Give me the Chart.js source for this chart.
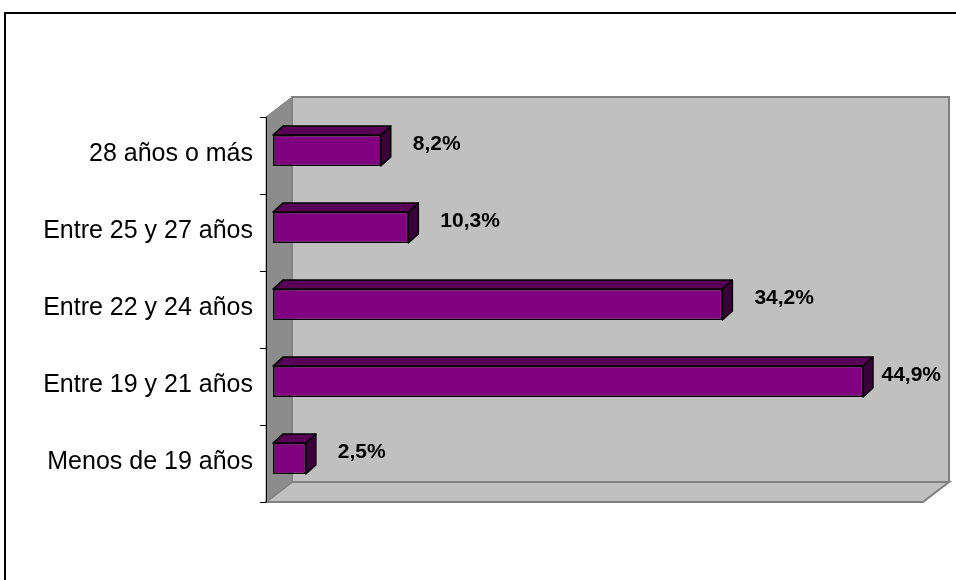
<!DOCTYPE html>
<html>
<head>
<meta charset="utf-8">
<script src="https://cdn.jsdelivr.net/npm/chart.js@4"></script>
<style>
  html, body { margin: 0; padding: 0; background: #ffffff; }
  canvas { display: block; }
</style>
</head>
<body>
<canvas id="edadChart" width="956" height="580"></canvas>
<script>
// data, in Excel order (first category is drawn at the bottom)
const categories = ['Menos de 19 años', 'Entre 19 y 21 años', 'Entre 22 y 24 años', 'Entre 25 y 27 años', '28 años o más'];
const percentages = [2.5, 44.9, 34.2, 10.3, 8.2];
const axisMin = 0;
const axisMax = 50;

const formatPct = (v) => v.toFixed(1).replace('.', ',') + '%';

// ─── 3D look (walls, floor, bar depth, labels) ───────

const WALL_DX = 26, WALL_DY = 20;   // depth of the walls
const BAR_DX = 10, BAR_DY = 9;      // depth of each bar
const FRONT_DX = -7, FRONT_DY = 5;  // front plane vs. bar front faces

const poly = (ctx, pts, fill, stroke, lw) => {
    ctx.beginPath();
    ctx.moveTo(pts[0][0], pts[0][1]);
    pts.slice(1).forEach(p => ctx.lineTo(p[0], p[1]));
    ctx.closePath();
    if (fill) { ctx.fillStyle = fill; ctx.fill(); }
    if (stroke) { ctx.strokeStyle = stroke; ctx.lineWidth = lw || 1; ctx.stroke(); }
};

const threeD = {
    id: 'threeD',
    beforeDraw(chart) {
        const { ctx, chartArea: a } = chart;
        ctx.save();

        // outer frame (runs past the window)
        ctx.strokeStyle = '#000000';
        ctx.lineWidth = 2;
        ctx.strokeRect(5, 13, 2000, 2000);

        const fl = a.left + FRONT_DX, fr = a.right + FRONT_DX;
        const ft = a.top + FRONT_DY, fb = a.bottom + FRONT_DY;

        // back wall
        poly(ctx, [[fl + WALL_DX, ft - WALL_DY], [fr + WALL_DX, ft - WALL_DY],
                   [fr + WALL_DX, fb - WALL_DY], [fl + WALL_DX, fb - WALL_DY]], '#c0c0c0', '#808080', 2);
        // floor
        poly(ctx, [[fl, fb], [fr, fb], [fr + WALL_DX, fb - WALL_DY], [fl + WALL_DX, fb - WALL_DY]], '#c0c0c0', '#808080', 2);
        // side wall
        poly(ctx, [[fl, ft], [fl + WALL_DX, ft - WALL_DY], [fl + WALL_DX, fb - WALL_DY], [fl, fb]], '#8c8c8c', '#808080', 1);

        // category axis line and tick marks
        ctx.strokeStyle = '#000000';
        ctx.lineWidth = 1;
        ctx.beginPath();
        ctx.moveTo(fl + 0.5, ft);
        ctx.lineTo(fl + 0.5, fb);
        const n = categories.length;
        for (let i = 0; i <= n; i++) {
            const y = Math.round(ft + (fb - ft) * i / n) + 0.5;
            ctx.moveTo(fl - 6, y);
            ctx.lineTo(fl + 0.5, y);
        }
        ctx.stroke();
        ctx.restore();
    },
    afterDatasetsDraw(chart) {
        const { ctx } = chart;
        const meta = chart.getDatasetMeta(0);
        const wallRight = chart.chartArea.right + FRONT_DX + WALL_DX;
        ctx.save();
        ctx.lineJoin = 'round';
        meta.data.forEach((bar, i) => {
            const { x, y, base, height } = bar.getProps(['x', 'y', 'base', 'height'], true);
            const top = y - height / 2, bottom = y + height / 2;
            // top face
            poly(ctx, [[base, top], [x, top], [x + BAR_DX, top - BAR_DY], [base + BAR_DX, top - BAR_DY]], '#580058', '#000000', 1.5);
            // right face
            poly(ctx, [[x, top], [x + BAR_DX, top - BAR_DY], [x + BAR_DX, bottom - BAR_DY], [x, bottom]], '#3a003a', '#000000', 1.5);

            // value label
            const txt = formatPct(percentages[i]);
            ctx.font = 'bold 21px "Liberation Sans", Arial, sans-serif';
            ctx.fillStyle = '#000000';
            ctx.textBaseline = 'middle';
            ctx.textAlign = 'left';
            const w = ctx.measureText(txt).width;
            const lx = Math.min(x + BAR_DX + 22, wallRight - 8 - w);
            ctx.fillText(txt, lx, y - 6);
        });
        ctx.restore();
    }
};

new Chart(document.getElementById('edadChart').getContext('2d'), {
    type: 'bar',
    data: {
        labels: categories,
        datasets: [{
            data: percentages,
            backgroundColor: '#800080',
            borderColor: '#000000',
            borderWidth: 1.5,
            borderSkipped: false,
            categoryPercentage: 1,
            barPercentage: 0.4
        }]
    },
    options: {
        indexAxis: 'y',
        responsive: false,
        animation: false,
        layout: { padding: { left: 0, top: 112, right: 26, bottom: 83 } },
        plugins: {
            legend: { display: false },
            tooltip: { enabled: false }
        },
        scales: {
            x: { display: false, min: axisMin, max: axisMax },
            y: {
                reverse: true,
                grid: { display: false },
                border: { display: false },
                afterFit(scale) { scale.width = 273; },
                ticks: {
                    color: '#000000',
                    padding: 12,
                    labelOffset: 4,
                    font: { family: '"Liberation Sans", Arial, sans-serif', size: 25 }
                }
            }
        }
    },
    plugins: [threeD]
});
</script>
</body>
</html>
